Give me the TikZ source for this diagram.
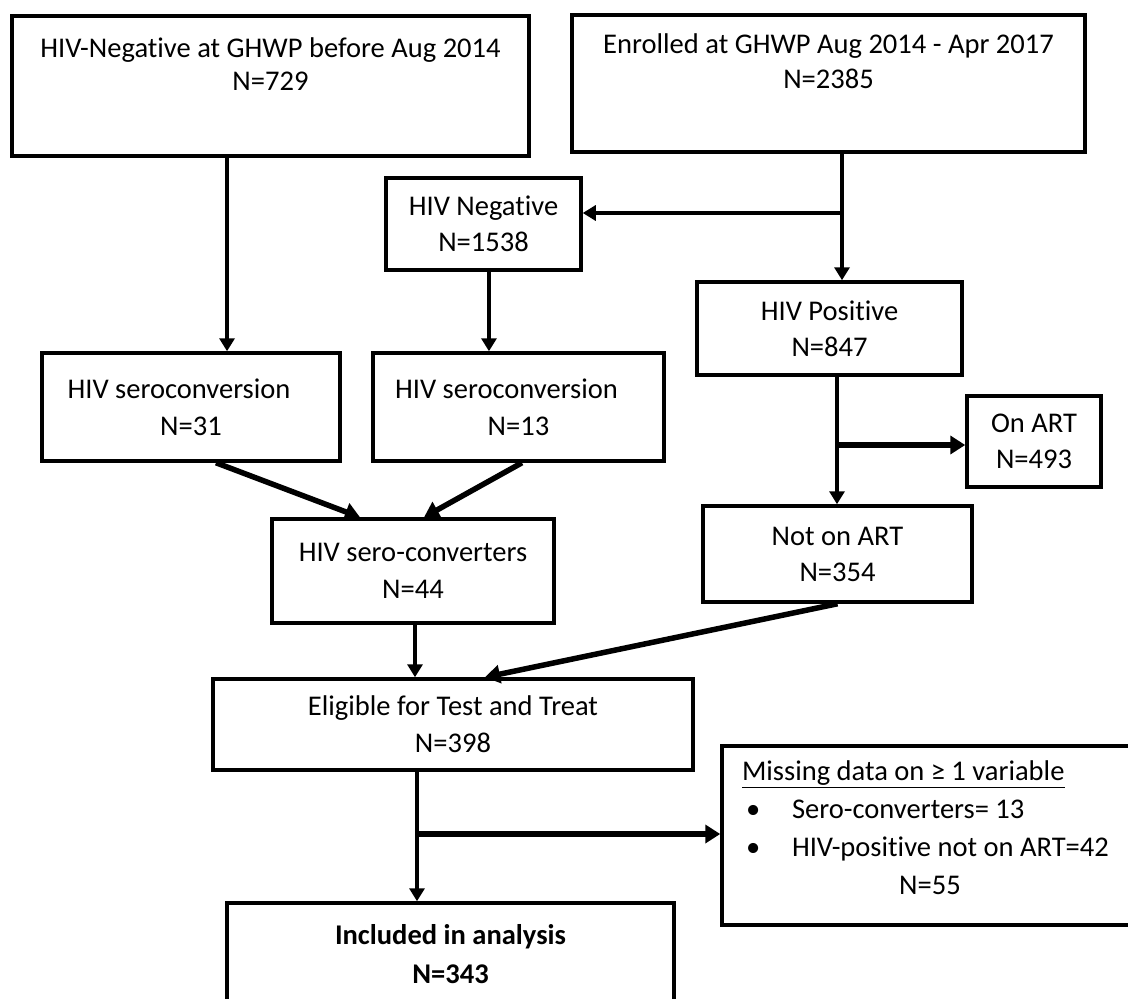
\documentclass[tikz,border=0pt]{standalone}
\usepackage{fontspec}
\setmainfont{Carlito}[Ligatures=NoCommon]
\usepackage{tikz}
\usetikzlibrary{arrows.meta,positioning}
\newlength{\unitpx}
\setlength{\unitpx}{0.75pt}
\tikzstyle{process} = [rectangle, draw=black, line width=3.5\unitpx, inner sep=0pt, align=center, font=\fontsize{21.4pt}{27pt}\selectfont]
\tikzstyle{flow} = [line width=3.5\unitpx, -{Triangle[length=9.75pt,width=11.25pt]}]
\tikzstyle{heavyflow} = [line width=5.5\unitpx, -{Triangle[length=11.25pt,width=13.5pt]}]

\begin{document}
\begin{tikzpicture}[x=0.75pt, y=-0.75pt]
    \useasboundingbox[fill=white] (0,0) rectangle (1128,999);

    \node(neg729)[process, minimum width=517\unitpx, minimum height=140\unitpx, font=\fontsize{21.4pt}{25pt}\selectfont] at (270.5,86) {HIV-Negative at GHWP before Aug 2014\\N=729\\[10\unitpx]\mbox{}};
    \node(enrolled)[process, minimum width=513\unitpx, minimum height=137\unitpx, font=\fontsize{21.4pt}{26pt}\selectfont] at (828.5,83.5) {Enrolled at GHWP Aug 2014 - Apr 2017\\N=2385\\[10\unitpx]\mbox{}};
    \node(neg1538)[process, minimum width=195\unitpx, minimum height=92\unitpx] at (483.5,224) {HIV Negative\\N=1538};
    \node(pos847)[process, minimum width=265\unitpx, minimum height=93\unitpx] at (829.5,328.5) {HIV Positive\\N=847};

    \node(sero31)[process, minimum width=298\unitpx, minimum height=108\unitpx, font=\fontsize{21.4pt}{28pt}\selectfont] at (191,407) {HIV seroconversion\rule{24\unitpx}{0pt}\\N=31};
    \node(sero13)[process, minimum width=291\unitpx, minimum height=108\unitpx, font=\fontsize{21.4pt}{28pt}\selectfont] at (518.5,407) {HIV seroconversion\rule{24\unitpx}{0pt}\\N=13};
    \node(onart)[process, minimum width=134\unitpx, minimum height=91\unitpx] at (1034,441.5) {On ART\\N=493};

    \node(sc44)[process, minimum width=282\unitpx, minimum height=104\unitpx, font=\fontsize{21.4pt}{28pt}\selectfont] at (413,571) {HIV sero-converters\\N=44};
    \node(notart)[process, minimum width=269\unitpx, minimum height=96\unitpx] at (837.5,554) {Not on ART\\N=354};

    \node(eligible)[process, minimum width=480\unitpx, minimum height=91\unitpx, font=\fontsize{21.4pt}{28pt}\selectfont] at (453,724.5) {Eligible for Test and Treat\\N=398};
    \node(missing)[process, minimum width=428\unitpx, minimum height=179\unitpx, inner xsep=20\unitpx, text width=388\unitpx, align=flush left, font=\fontsize{21.4pt}{28.5pt}\selectfont] at (936,835.5) {\underline{Missing data on ≥ 1 variable}\\\makebox[50\unitpx][l]{\hspace{4\unitpx}•}Sero-converters= 13\\\makebox[50\unitpx][l]{\hspace{4\unitpx}•}HIV-positive not on ART=42\\\makebox[376\unitpx]{N=55}\\[-22\unitpx]\mbox{}};
    \node(included)[process, minimum width=447\unitpx, minimum height=102\unitpx, font=\fontsize{21.4pt}{29pt}\selectfont\bfseries] at (450.5,954) {Included in analysis\\N=343};

    % split points
    \coordinate (enrolsplit) at (842,213);
    \coordinate (possplit) at (837,445);
    \coordinate (eligsplit) at (417,834);

    \draw[flow] ([xshift=-32.6pt]neg729.south) -- ([xshift=-32.6pt]neg729.south |- sero31.north);
    \draw[flow] ([xshift=4.1pt]neg1538.south) -- ([xshift=4.1pt]neg1538.south |- sero13.north);
    \draw[flow] (enrolled.south -| enrolsplit) -- (pos847.north -| enrolsplit);
    \draw[flow] (enrolsplit) -- (enrolsplit -| neg1538.east);
    \draw[flow] (pos847.south -| possplit) -- (notart.north -| possplit);
    \draw[heavyflow] (possplit) -- (possplit -| onart.west);

    \draw[heavyflow] ([xshift=18.75pt]sero31.south) -- ([xshift=-39.75pt]sc44.north);
    \draw[heavyflow] ([xshift=2.6pt]sero13.south) -- ([xshift=8.25pt]sc44.north);
    \draw[flow] ([xshift=1.5pt]sc44.south) -- ([xshift=1.5pt]sc44.south |- eligible.north);
    \draw[heavyflow] (notart.south) -- ([xshift=24pt]eligible.north);

    \draw[flow] (eligible.south -| eligsplit) -- (included.north -| eligsplit);
    \draw[heavyflow] (eligsplit) -- (eligsplit -| missing.west);

\end{tikzpicture}
\end{document}
